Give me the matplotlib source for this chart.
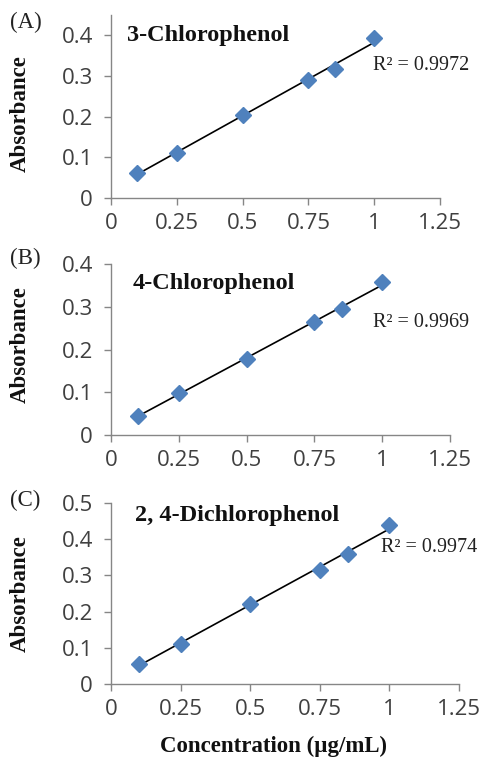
import matplotlib
matplotlib.use("Agg")
import matplotlib.pyplot as plt
import numpy as np

conc = [0.1, 0.25, 0.5, 0.75, 0.85, 1.0]
abs_3cp = [0.062, 0.110, 0.204, 0.290, 0.318, 0.393]
abs_4cp = [0.045, 0.098, 0.177, 0.265, 0.294, 0.357]
abs_24dcp = [0.055, 0.111, 0.221, 0.315, 0.358, 0.440]
names = ["3-Chlorophenol", "4-Chlorophenol", "2, 4-Dichlorophenol"]
r2 = ["R² = 0.9972", "R² = 0.9969", "R² = 0.9974"]
panel = ["(A)", "(B)", "(C)"]
xticks = [0, 0.25, 0.5, 0.75, 1, 1.25]
xticklabels = ["0", "0.25", "0.5", "0.75", "1", "1.25"]
yticks_list = [[0, 0.1, 0.2, 0.3, 0.4], [0, 0.1, 0.2, 0.3, 0.4], [0, 0.1, 0.2, 0.3, 0.4, 0.5]]
ylims = [0.45, 0.4, 0.5]
series = [abs_3cp, abs_4cp, abs_24dcp]

W, H = 482, 757
fig = plt.figure(figsize=(W / 100, H / 100), dpi=100)

# axes boxes in pixels: left, right, top, bottom
boxes = [(111, 440, 15, 198), (111, 450, 264, 435), (111, 459, 503, 684)]
title_pos = [(127, 36), (133, 283), (135, 515)]
r2_pos = [(373, 65), (373, 323), (381, 547)]
panel_pos = [(10, 22), (10, 258), (10, 500)]
ylab_pos = [(20, 114), (20, 345), (20, 594)]

serif = "Liberation Serif"
tickfont = "Open Sans"
axcol = "#868686"
txtcol = "#404040"

for i in range(3):
    l, r, t, b = boxes[i]
    ax = fig.add_axes([l / W, 1 - b / H, (r - l) / W, (b - t) / H])
    y = series[i]
    ax.plot(conc, y, linestyle="none", marker="D", ms=8, color="#4F81BD", zorder=3)
    k, c = np.polyfit(conc, y, 1)
    xs = np.array([conc[0], conc[-1]])
    ax.plot(xs, k * xs + c, color="black", lw=1.2, zorder=2)
    ax.set_xlim(0, 1.25)
    ax.set_ylim(0, ylims[i])
    ax.set_xticks(xticks)
    ax.set_xticklabels(xticklabels)
    ax.set_yticks(yticks_list[i])
    ax.set_yticklabels([("%g" % v) for v in yticks_list[i]])
    for s in ["top", "right"]:
        ax.spines[s].set_visible(False)
    for s in ["left", "bottom"]:
        ax.spines[s].set_color(axcol)
        ax.spines[s].set_linewidth(1.0)
    ax.tick_params(direction="out", length=5, width=1.0, color=axcol,
                   labelsize=16, labelcolor=txtcol)
    ax.tick_params(axis="x", pad=6)
    ax.tick_params(axis="y", pad=8)
    for lab in ax.get_xticklabels() + ax.get_yticklabels():
        lab.set_fontfamily(tickfont)
    ax.patch.set_alpha(0)
    ax.spines["left"].set_bounds(0, ylims[i])
    tx, ty = title_pos[i]
    fig.text(tx / W, 1 - ty / H, names[i], fontfamily=serif, fontweight="bold",
             fontsize=17.5, ha="left", va="center", color="#111111")
    rx, ry = r2_pos[i]
    fig.text(rx / W, 1 - ry / H, r2[i], fontfamily=serif, fontsize=14.5,
             ha="left", va="center", color="#222222")
    px, py = panel_pos[i]
    fig.text(px / W, 1 - py / H, panel[i], fontfamily=serif, fontsize=16.5,
             ha="left", va="center", color="#222222")
    lx, ly = ylab_pos[i]
    fig.text(lx / W, 1 - ly / H, "Absorbance", fontfamily=serif, fontweight="bold",
             fontsize=16.5, rotation=90, ha="center", va="center", color="#111111")

fig.text(273 / W, 1 - 746 / H, "Concentration (µg/mL)", fontfamily=serif,
         fontweight="bold", fontsize=16.5, ha="center", va="center", color="#111111")

fig.savefig("out.png", dpi=100)
